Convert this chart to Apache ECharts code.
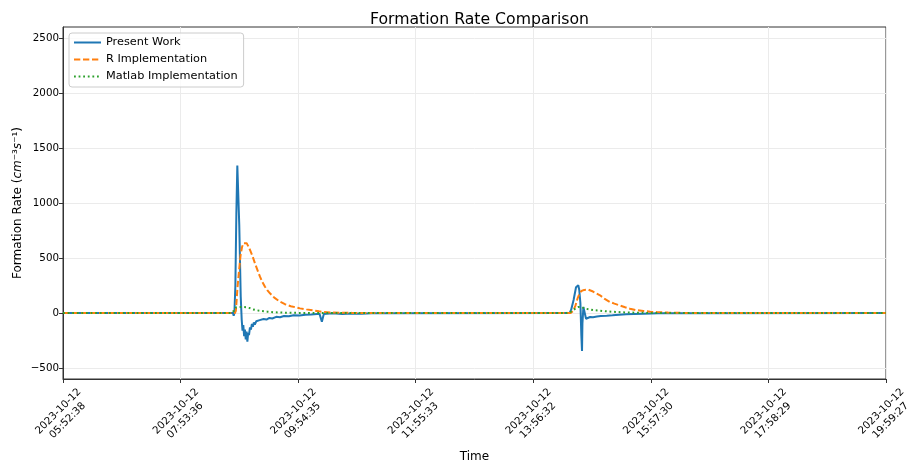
<!DOCTYPE html>
<html>
<head>
<meta charset="utf-8">
<script src="https://cdn.jsdelivr.net/npm/echarts@6/dist/echarts.min.js"></script>
<style>
html,body{margin:0;padding:0;background:#fff;}
#chart{width:907px;height:461px;}
</style>
</head>
<body>
<div id="chart"></div>
<script>
// ---- data (times on 2023-10-12) ----
const dateLabel = '2023-10-12';
const startTime = '05:52:38';
const endTime = '19:59:27';
const xTickLabels = ['05:52:38','07:53:36','09:54:35','11:55:33','13:56:32','15:57:30','17:58:29','19:59:27'];
const yTickValues = [-500, 0, 500, 1000, 1500, 2000, 2500];

const presentTimes = ['05:52:38','08:47:30','08:48:16','08:49:00','08:50:00','08:51:00','08:52:00','08:52:45','08:54:00','08:55:30','08:56:30','08:57:20','08:58:10','08:59:00','08:59:50','09:00:40','09:01:30','09:02:20','09:03:10','09:04:00','09:05:00','09:06:00','09:07:00','09:08:00','09:09:00','09:10:00','09:11:30','09:13:00','09:15:00','09:17:00','09:19:00','09:22:00','09:25:00','09:28:00','09:32:00','09:36:00','09:40:00','09:45:00','09:50:00','09:56:00','10:02:00','10:08:00','10:14:00','10:16:30','10:17:48','10:19:00','10:21:00','10:30:00','10:40:00','10:50:00','11:00:00','11:10:00','14:31:00','14:34:00','14:35:30','14:38:00','14:40:30','14:42:50','14:43:50','14:45:00','14:45:57','14:46:40','14:47:05','14:48:05','14:50:48','14:55:00','14:58:00','15:02:00','15:06:00','15:12:00','15:18:00','15:25:00','15:32:00','15:40:00','15:50:00','16:05:00','19:59:27'];
const presentValues = [0,0,-25,0,250,900,1340,1330,800,150,-60,-160,-110,-210,-150,-240,-170,-260,-180,-200,-130,-150,-100,-125,-85,-105,-75,-90,-65,-75,-55,-60,-45,-50,-35,-38,-28,-30,-20,-22,-15,-13,-8,-6,-5,-80,-10,-3,-8,-4,-6,-2,0,0,30,118,234,252,209,91,-200,-345,-100,55,-52,-36,-38,-32,-28,-25,-21,-16,-12,-9,-6,-3,0,0];

const rTimes = ['05:52:38','08:49:30','08:50:30','08:51:20','08:52:03','08:53:44','08:55:17','08:56:50','08:58:23','08:59:54','09:01:37','09:03:22','09:05:03','09:07:30','09:10:11','09:12:45','09:15:19','09:17:50','09:20:27','09:23:00','09:25:37','09:30:00','09:35:54','09:41:00','09:47:00','09:56:30','10:03:00','10:10:11','10:16:00','10:20:29','10:28:00','10:37:00','10:50:00','11:10:00','14:35:00','14:37:43','14:40:00','14:42:00','14:44:00','14:46:00','14:49:00','14:53:10','14:58:00','15:05:12','15:10:00','15:15:30','15:20:00','15:25:47','15:31:00','15:36:04','15:42:00','15:49:46','15:57:00','16:03:33','16:15:00','16:30:00','16:45:00','19:59:27'];
const rValues = [0,0,20,120,220,380,520,600,635,645,635,605,573,520,451,390,330,280,239,205,179,140,103,80,62,42,33,24,15,9,5,3,1,0,0,20,70,130,175,200,210,212,195,161,128,100,85,68,52,39,27,18,12,8,4,1,0,0];

const matlabTimes = ['05:52:38','08:46:00','08:48:30','08:50:30','08:53:00','08:57:00','09:01:00','09:04:30','09:08:00','09:12:00','09:17:00','09:23:00','09:30:00','09:40:00','09:55:00','10:10:00','14:31:00','14:35:00','14:39:00','14:43:00','14:46:00','14:50:00','14:58:00','15:12:00','15:28:00','15:45:00','16:00:00','19:59:27'];
const matlabValues = [0,0,20,50,55,55,52,45,33,25,18,12,7,3,1,0,0,10,35,55,55,40,27,15,6,2,0,0];

// ---- build ----
const toSec = s => { const p = s.split(':').map(Number); return p[0]*3600 + p[1]*60 + p[2]; };
const pairs = (ts, vs) => ts.map((t, i) => [toSec(t), vs[i]]);
const xTickValues = xTickLabels.map(toSec);
const FONT = 'DejaVu Sans';

const chart = echarts.init(document.getElementById('chart'), null, {renderer: 'canvas'});
chart.setOption({
  animation: false,
  backgroundColor: '#ffffff',
  textStyle: {fontFamily: FONT, color: '#000'},
  title: {
    text: 'Formation Rate Comparison',
    left: 474.5, top: 7, textAlign: 'center',
    textStyle: {fontFamily: FONT, fontSize: 15.7, fontWeight: 'normal', color: '#000'}
  },
  legend: {
    orient: 'vertical', left: 69, top: 33,
    padding: [4, 6, 5, 4],
    itemWidth: 27, itemHeight: 11, itemGap: 6,
    borderColor: '#cccccc', borderWidth: 1, borderRadius: 3,
    backgroundColor: 'rgba(255,255,255,0.8)',
    itemStyle: {opacity: 0},
    textStyle: {fontFamily: FONT, fontSize: 11.3, color: '#000'},
    data: ['Present Work', 'R Implementation', 'Matlab Implementation']
  },
  grid: {left: 63, right: 21, top: 27, bottom: 82, outerBoundsMode: 'none', containLabel: false,
         show: true, borderColor: '#333', borderWidth: 1, backgroundColor: 'transparent'},
  xAxis: {
    type: 'value',
    min: toSec(startTime), max: toSec(endTime),
    name: 'Time', nameLocation: 'middle', nameGap: 72, nameMoveOverlap: false,
    nameTextStyle: {fontFamily: FONT, fontSize: 12, color: '#000'},
    axisLine: {show: true, onZero: false, lineStyle: {color: '#333', width: 1}},
    axisTick: {show: true, length: 4, customValues: xTickValues, lineStyle: {color: '#333'}},
    axisLabel: {
      customValues: xTickValues,
      rotate: 45, align: 'center', verticalAlign: 'middle', margin: 37,
      fontFamily: FONT, fontSize: 10.3, color: '#000', lineHeight: 13,
      formatter: function (v) {
        let best = 0, bd = Infinity;
        xTickValues.forEach((t, i) => { const d = Math.abs(t - v); if (d < bd) { bd = d; best = i; } });
        return dateLabel + '\n' + xTickLabels[best];
      }
    },
    splitLine: {show: true, lineStyle: {color: '#ebebeb', width: 1}}
  },
  yAxis: {
    type: 'value', min: -600, max: 2600,
    name: '{n|Formation Rate (}{i|cm}{n|⁻³}{i|s}{n|⁻¹}{n|)}',
    nameLocation: 'middle', nameGap: 39, nameRotate: 90, nameMoveOverlap: false,
    nameTextStyle: {
      fontFamily: FONT, fontSize: 12, color: '#000',
      rich: {
        n: {fontFamily: FONT, fontSize: 12, color: '#000'},
        i: {fontFamily: FONT, fontSize: 12, color: '#000', fontStyle: 'italic'}
      }
    },
    axisLine: {show: true, onZero: false, lineStyle: {color: '#333', width: 1}},
    axisTick: {show: true, length: 4, customValues: yTickValues, lineStyle: {color: '#333'}},
    axisLabel: {
      customValues: yTickValues, margin: 4,
      fontFamily: FONT, fontSize: 10.3, color: '#000',
      formatter: v => (v < 0 ? '\u2212' + Math.abs(v) : String(v))
    },
    splitLine: {show: true, lineStyle: {color: '#ebebeb', width: 1}}
  },
  series: [
    {name: 'Present Work', type: 'line', data: pairs(presentTimes, presentValues), symbol: 'none',
     color: '#1f77b4', lineStyle: {color: '#1f77b4', width: 2}},
    {name: 'R Implementation', type: 'line', data: pairs(rTimes, rValues), symbol: 'none',
     color: '#ff7f0e', lineStyle: {color: '#ff7f0e', width: 2, type: [6.3, 2.7]}},
    {name: 'Matlab Implementation', type: 'line', data: pairs(matlabTimes, matlabValues), symbol: 'none',
     color: '#2ca02c', lineStyle: {color: '#2ca02c', width: 2, type: [1.8, 2.8]}}
  ]
});
</script>
</body>
</html>
